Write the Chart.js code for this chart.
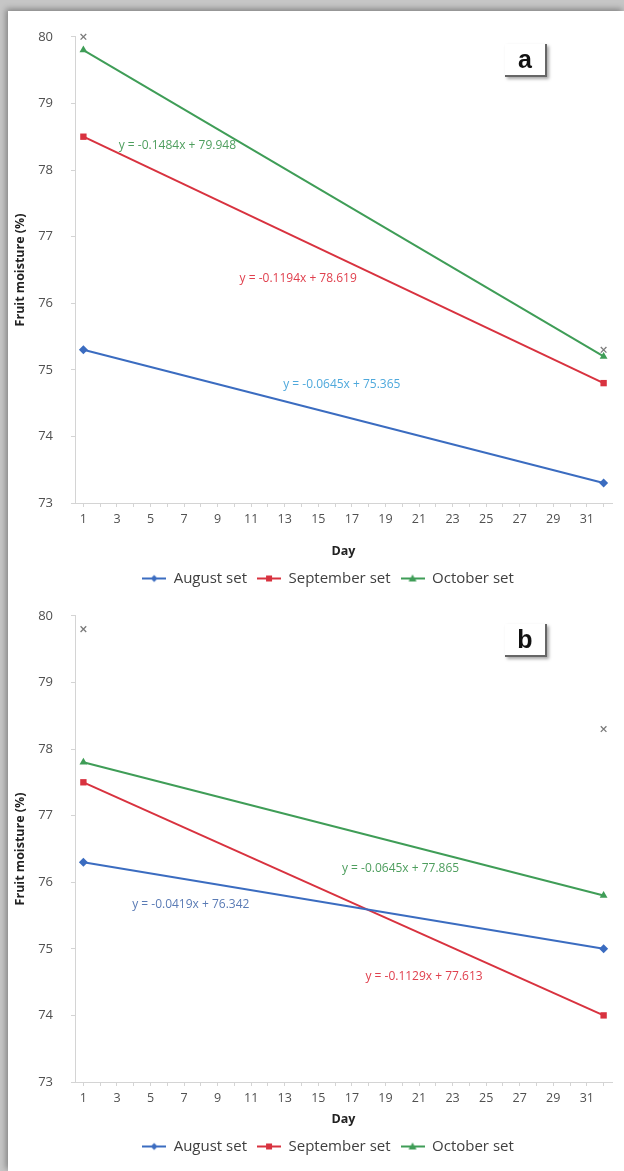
<!DOCTYPE html>
<html lang="en">
<head>
<meta charset="utf-8">
<title>Fruit moisture</title>
<script src="https://cdn.jsdelivr.net/npm/chart.js@4.4.0/dist/chart.umd.min.js"></script>
<style>
    html, body { margin: 0; padding: 0; }
    body { width: 624px; height: 1171px; background: #c6c6c6; overflow: hidden; position: relative; }
    #sheet { position: absolute; left: 8px; top: 11px; right: 0; bottom: 0; background: #fff;
             box-shadow: -2px -2px 6px rgba(0,0,0,0.35); }
    .panel { position: absolute; left: 0; width: 616px; }
    #wrapA { top: 0; height: 585px; }
    #wrapB { top: 579px; height: 581px; }
    .tag { position: absolute; width: 40px; height: 31px; text-align: center;
           font: bold 25px "Liberation Sans", Arial, sans-serif; line-height: 31px; color: #111;
           border-right: 2px solid #666; border-bottom: 2px solid #666;
           box-shadow: 2px 2px 3px rgba(0,0,0,0.35); }
</style>
</head>
<body>
<div id="sheet">
    <div class="panel" id="wrapA"><canvas id="chartA" width="616" height="585"></canvas>
        <div class="tag" style="left:497px; top:33px;">a</div></div>
    <div class="panel" id="wrapB"><canvas id="chartB" width="616" height="581"></canvas>
        <div class="tag" style="left:497px; top:34px;">b</div></div>
</div>
<script>
// days sampled
var days = [1, 32];

// panel a
var augustA = [75.3, 73.3];
var septemberA = [78.5, 74.8];
var octoberA = [79.8, 75.2];
var crossA = [80.0, 75.3];
var equationsA = ['y = -0.0645x + 75.365', 'y = -0.1194x + 78.619', 'y = -0.1484x + 79.948'];

// panel b
var augustB = [76.3, 75.0];
var septemberB = [77.5, 74.0];
var octoberB = [77.8, 75.8];
var crossB = [79.8, 78.3];
var equationsB = ['y = -0.0419x + 76.342', 'y = -0.1129x + 77.613', 'y = -0.0645x + 77.865'];

var seriesNames = ['August set', 'September set', 'October set'];
var lineColors = ['#3b6cc0', '#d8323f', '#3f9d57'];
var markers = ['rectRot', 'rect', 'triangle'];

// where the trendline labels sit (in axis units)
var labelSpotsA = [[16.4, 74.78], [13.8, 76.37], [6.6, 78.36]];
var labelSpotsB = [[7.4, 75.66], [21.3, 74.58], [19.9, 76.2]];
var labelColorsA = ['#4fa9dc', '#e0404e', '#4e9e5e'];
var labelColorsB = ['#5a7bb5', '#e0404e', '#4e9e5e'];

var tickFont = {family: '"Open Sans", sans-serif', size: 12.5};

function pts(vals) {
    return days.map(function (d, i) { return {x: d, y: vals[i]}; });
}

function legendSwatch(color, style) {
    var c = document.createElement('canvas');
    c.width = 24; c.height = 10;
    var g = c.getContext('2d');
    g.strokeStyle = color; g.fillStyle = color; g.lineWidth = 2;
    g.beginPath(); g.moveTo(0, 5); g.lineTo(24, 5); g.stroke();
    g.beginPath();
    if (style === 'rect') { g.rect(9, 2, 6, 6); }
    else if (style === 'rectRot') { g.moveTo(12, 1.5); g.lineTo(15.5, 5); g.lineTo(12, 8.5); g.lineTo(8.5, 5); }
    else { g.moveTo(12, 1); g.lineTo(16, 8); g.lineTo(8, 8); }
    g.closePath(); g.fill();
    return c;
}

var eqPlugin = {
    id: 'eqLabels',
    afterLayout: function (chart) {
        // legend sits a little right of centre in the original
        chart.legend.left += 18;
        chart.legend.right += 18;
    },
    afterDatasetsDraw: function (chart, args, opts) {
        var ctx = chart.ctx;
        ctx.save();
        ctx.font = '12px "Open Sans", sans-serif';
        ctx.textAlign = 'center';
        ctx.textBaseline = 'middle';
        opts.texts.forEach(function (t, i) {
            ctx.fillStyle = opts.colors[i];
            ctx.fillText(t, chart.scales.x.getPixelForValue(opts.spots[i][0]),
                chart.scales.y.getPixelForValue(opts.spots[i][1]));
        });
        ctx.restore();
    }
};

function makeChart(id, series, cross, texts, spots, colors, pad) {
    var datasets = series.map(function (vals, i) {
        return {
            label: seriesNames[i], data: pts(vals),
            borderColor: lineColors[i], backgroundColor: lineColors[i],
            borderWidth: 2, pointStyle: markers[i], pointRadius: 4.5, pointBorderWidth: 0, clip: false
        };
    });
    datasets.push({
        label: 'x', data: pts(cross), showLine: false, clip: false,
        pointStyle: 'crossRot', pointRadius: 4, borderColor: '#7a7a7a', borderWidth: 1.3
    });
    return new Chart(document.getElementById(id), {
        type: 'line',
        data: {datasets: datasets},
        plugins: [eqPlugin],
        options: {
            responsive: false, animation: false,
            layout: {padding: {top: pad.top, right: 12, bottom: pad.bottom, left: 0}},
            plugins: {
                tooltip: {enabled: false},
                eqLabels: {texts: texts, spots: spots, colors: colors},
                legend: {
                    position: 'bottom',
                    labels: {
                        usePointStyle: true, pointStyleWidth: 24, padding: 10,
                        color: '#404040', font: {family: '"Open Sans", sans-serif', size: 15},
                        filter: function (item) { return item.datasetIndex < 3; },
                        generateLabels: function (chart) {
                            return chart.data.datasets.map(function (ds, i) {
                                return {
                                    text: ds.label, datasetIndex: i, lineWidth: 0,
                                    pointStyle: i < 3 ? legendSwatch(lineColors[i], markers[i]) : 'crossRot',
                                    fontColor: '#404040'
                                };
                            });
                        }
                    }
                }
            },
            scales: {
                x: {
                    type: 'linear', min: 0.5, max: 32.5,
                    afterBuildTicks: function (s) {
                        var t = [];
                        for (var d = 1; d <= 32; d++) t.push({value: d});
                        s.ticks = t;
                    },
                    afterFit: function (s) { s.height = pad.xh; },
                    ticks: {
                        autoSkip: false, maxRotation: 0, color: '#505050', font: tickFont, padding: 5,
                        callback: function (v) { return v % 2 === 1 ? String(v) : ''; }
                    },
                    grid: {drawOnChartArea: false, tickLength: 4, color: '#d4d4d4'},
                    border: {color: '#d4d4d4'},
                    title: {display: true, text: 'Day', color: '#222',
                        font: {family: '"Open Sans", sans-serif', size: 12.5, weight: 'bold'},
                        padding: {top: 2, bottom: pad.titleGap}}
                },
                y: {
                    min: 73, max: 80,
                    afterFit: function (s) { s.width = 67; },
                    ticks: {stepSize: 1, color: '#505050', font: {family: '"Open Sans", sans-serif', size: 13}, padding: 18},
                    grid: {drawOnChartArea: false, tickLength: 4, color: '#d4d4d4'},
                    border: {color: '#d4d4d4'},
                    title: {display: true, text: 'Fruit moisture (%)', color: '#222',
                        font: {family: '"Open Sans", sans-serif', size: 12.5, weight: 'bold'},
                        padding: {top: 5, bottom: 0}}
                }
            }
        }
    });
}

makeChart('chartA', [augustA, septemberA, octoberA], crossA, equationsA, labelSpotsA, labelColorsA,
    {top: 24, bottom: 0, xh: 58, titleGap: 2});
makeChart('chartB', [augustB, septemberB, octoberB], crossB, equationsB, labelSpotsB, labelColorsB,
    {top: 14, bottom: 7, xh: 47, titleGap: 2});
</script>
</body>
</html>
